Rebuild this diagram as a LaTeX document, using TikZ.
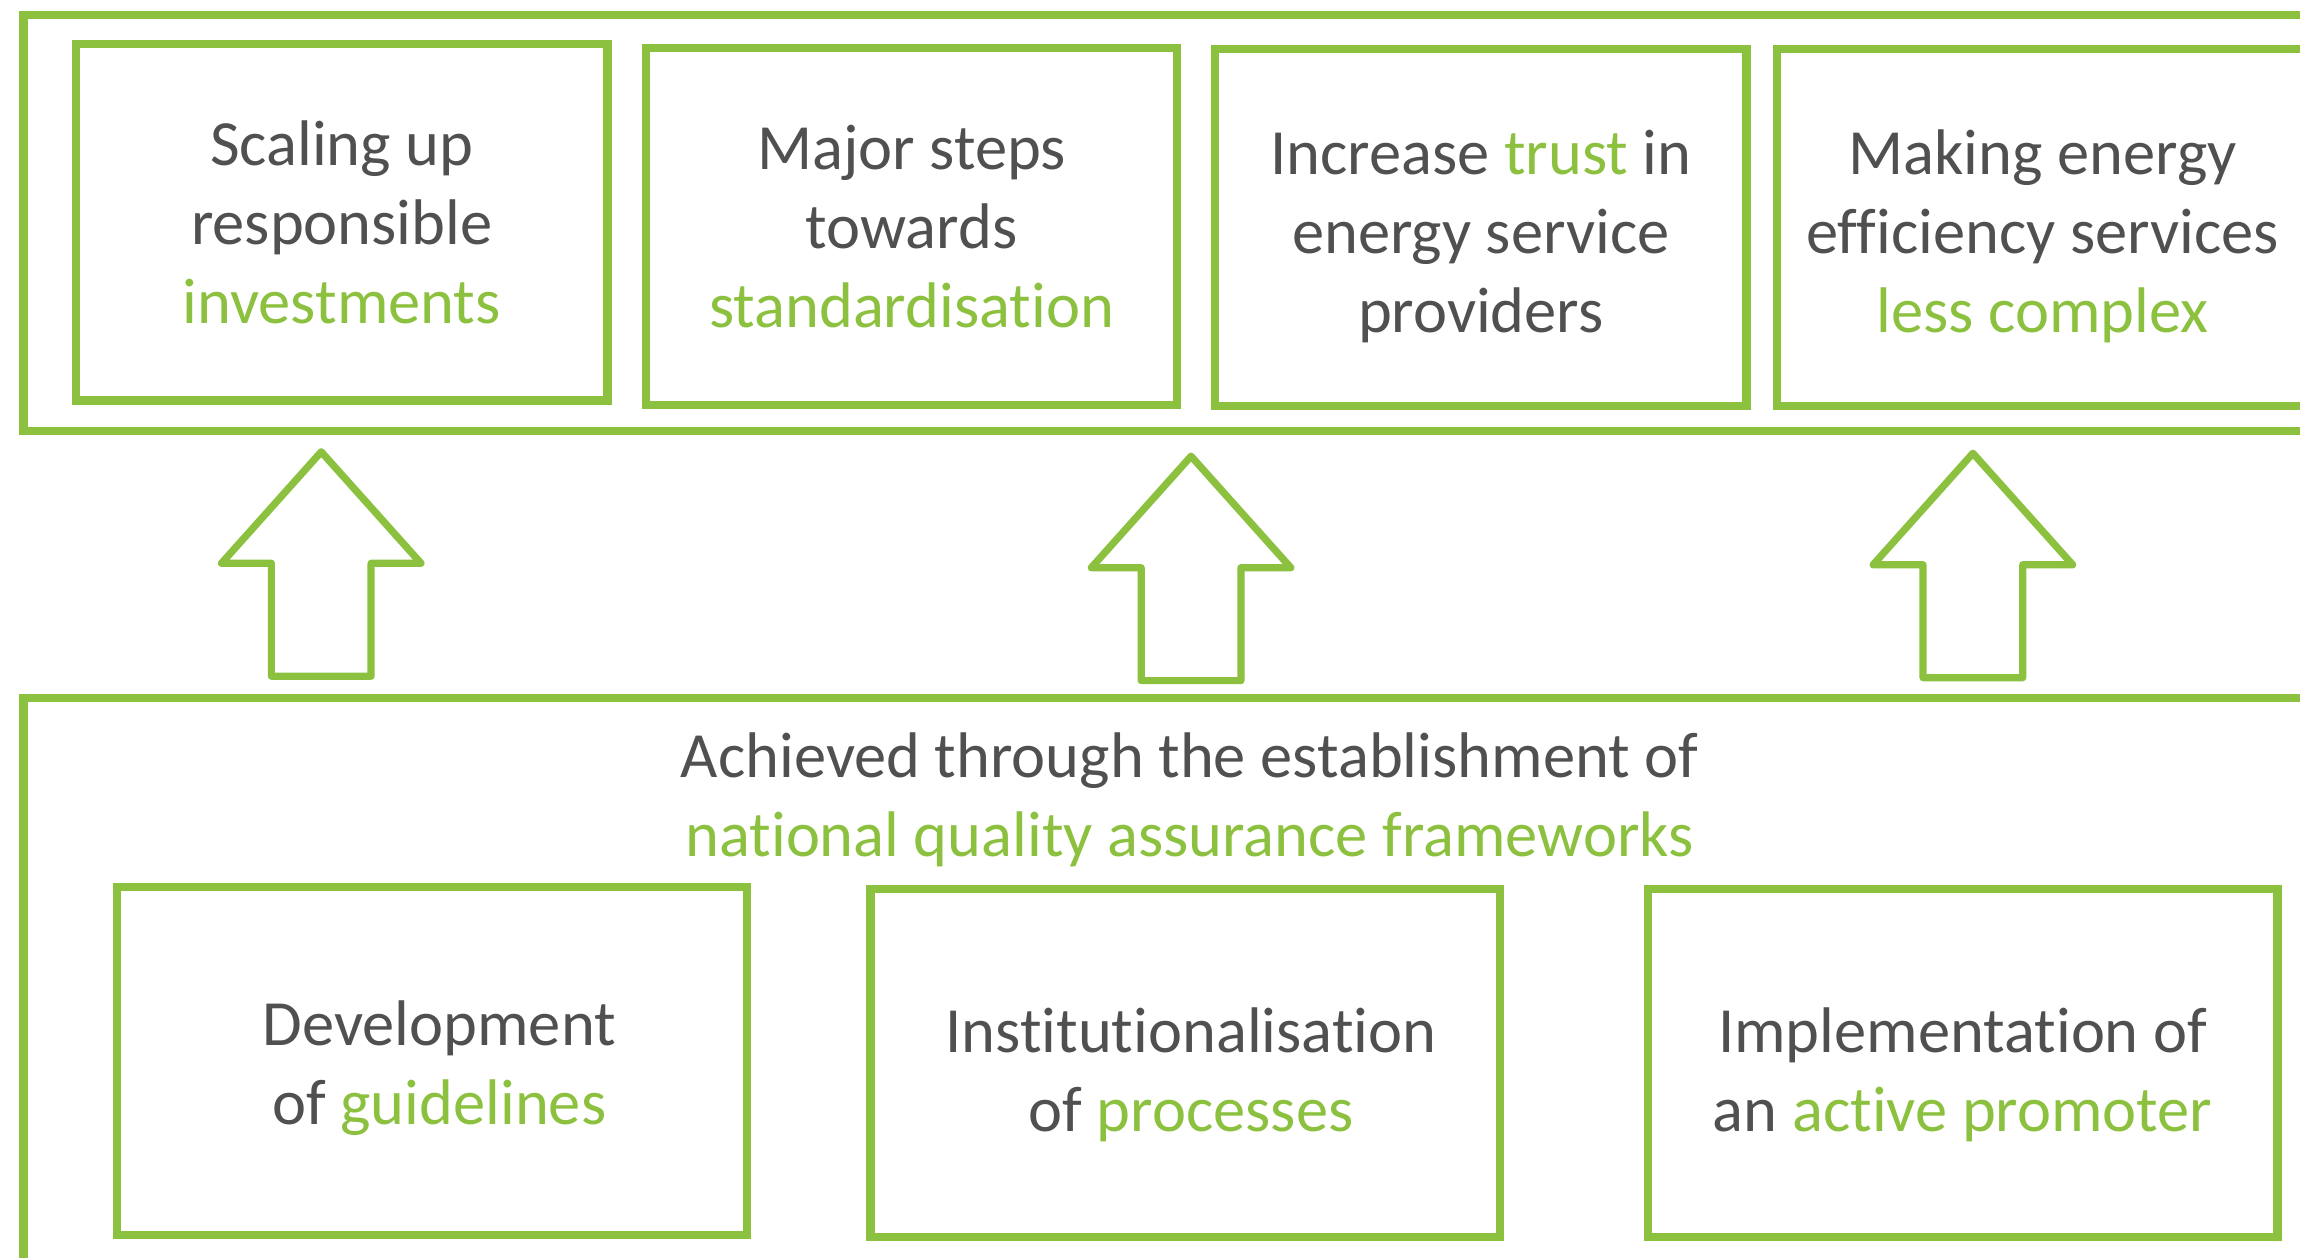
\documentclass[tikz,border=0pt]{standalone}
\usepackage{fontspec}
\setmainfont{Carlito}[Ligatures=NoCommon]
\usepackage{xcolor}
\usepackage{tikz}

\definecolor{leaf}{HTML}{8CC03F}
\definecolor{ink}{HTML}{505050}
\newcommand{\hl}[1]{\textcolor{leaf}{#1}}

\begin{document}
\begin{tikzpicture}[x=0.01cm,y=-0.01cm,
  box/.style={draw=leaf,line width=1.6pt,minimum width=3.62cm,minimum height=2.43cm},
  wide/.style={box,minimum width=4.29cm,minimum height=2.37cm},
  txt/.style={inner sep=0pt,align=center,text=ink,font=\fontsize{12.5}{15.3}\selectfont},
  frame/.style={draw=leaf,line width=1.6pt},
  up/.style={draw=leaf,line width=1.4pt,line join=round}]
\clip (0,0) rectangle (1568,857);

% outer frames
\draw[frame] (16,10) rectangle (1620,294);
\draw[frame] (16,476) rectangle (1620,900);

% goals
\node[box] (invest) at (233,151.5)   {};
\node[box] (std)    at (621.5,154.5) {};
\node[box] (trust)  at (1009.5,155)  {};
\node[box] (simple) at (1392.5,155)  {};
\node[txt] at (invest.center) {Scaling up\\responsible\\\hl{investments}};
\node[txt] at (std.center) {Major steps\\towards\\\hl{standardisation}};
\node[txt] at ([yshift=-0.06cm]trust.center) {Increase \hl{trust} in\\energy service\\providers};
\node[txt] at ([yshift=-0.06cm]simple.center) {Making energy\\efficiency services\\\hl{less complex}};

% up arrows
\foreach \x/\y in {219/308, 812/311, 1345/309}
  \draw[up] (\x,\y) -- ++(68,76) -- ++(-34,0) -- ++(0,77) -- ++(-68,0)
    -- ++(0,-77) -- ++(-34,0) -- cycle;

\node[txt] (basis) at (811,545)
  {Achieved through the establishment of\\\hl{national quality assurance frameworks}};

% measures
\node[wide] (guide) at (294.5,723.5) {};
\node[wide] (proc)  at (808,724.5)   {};
\node[wide] (promo) at (1338,724.5)  {};
\node[txt] at ([xshift=0.05cm,yshift=-0.05cm]guide.center) {Development\\of \hl{guidelines}};
\node[txt] at ([xshift=0.04cm,yshift=-0.08cm]proc.center) {Institutionalisation\\of \hl{processes}};
\node[txt] at ([yshift=-0.08cm]promo.center) {Implementation of\\an \hl{active promoter}};
\end{tikzpicture}
\end{document}
